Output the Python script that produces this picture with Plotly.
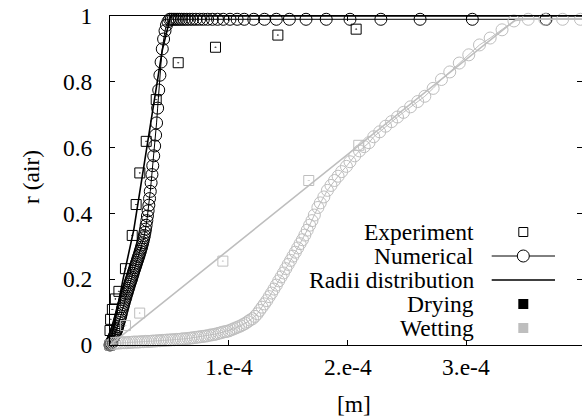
import plotly.graph_objects as go

# ---- data (x in units of 1e-4 m) ----
dry_exp_x = [0.0, 0.0, 0.005, 0.02, 0.045, 0.075, 0.13, 0.187, 0.22, 0.251, 0.305, 0.389, 0.574, 0.888, 1.413, 2.072]
dry_exp_r = [0.0, 0.044, 0.078, 0.108, 0.14, 0.163, 0.232, 0.333, 0.427, 0.523, 0.619, 0.746, 0.858, 0.905, 0.942, 0.960]

dry_num_x = [0.000, 0.005, 0.010, 0.015, 0.020, 0.025, 0.030, 0.035, 0.040, 0.045, 0.050, 0.055, 0.060,
             0.065, 0.070, 0.075, 0.080, 0.085, 0.090, 0.095, 0.100, 0.105, 0.110, 0.115, 0.120, 0.125,
             0.130, 0.135, 0.140, 0.145, 0.150, 0.155, 0.160, 0.165, 0.170, 0.175, 0.180, 0.185, 0.190,
             0.195, 0.200, 0.205, 0.210, 0.215, 0.220, 0.225, 0.230, 0.235, 0.240, 0.245, 0.250, 0.255,
             0.260, 0.265, 0.270, 0.275, 0.280, 0.285, 0.289, 0.294, 0.299, 0.304, 0.310, 0.315, 0.321,
             0.327, 0.333, 0.339, 0.346, 0.353, 0.360, 0.368, 0.376, 0.384, 0.392, 0.401, 0.410, 0.420,
             0.430, 0.440, 0.451, 0.463, 0.475, 0.488, 0.502, 0.516, 0.531, 0.547, 0.565, 0.583, 0.602,
             0.623, 0.646, 0.670, 0.695, 0.723, 0.754, 0.786, 0.822, 0.862, 0.905, 0.953, 1.01, 1.07,
             1.13, 1.21, 1.30, 1.40, 1.51, 1.65, 1.82, 2.02, 2.28, 2.61, 3.05, 3.67, 4.6]
dry_num_r = [0.000, 0.003, 0.006, 0.009, 0.013, 0.017, 0.021, 0.025, 0.030, 0.035, 0.040, 0.045, 0.050,
             0.056, 0.062, 0.068, 0.075, 0.081, 0.088, 0.095, 0.103, 0.110, 0.117, 0.123, 0.130, 0.136,
             0.142, 0.148, 0.155, 0.160, 0.166, 0.172, 0.178, 0.184, 0.190, 0.195, 0.200, 0.206, 0.212,
             0.218, 0.224, 0.229, 0.235, 0.240, 0.246, 0.251, 0.257, 0.262, 0.268, 0.273, 0.279, 0.285,
             0.291, 0.297, 0.304, 0.311, 0.318, 0.326, 0.333, 0.342, 0.352, 0.364, 0.378, 0.392, 0.408,
             0.425, 0.445, 0.467, 0.493, 0.518, 0.545, 0.575, 0.605, 0.638, 0.675, 0.720, 0.775, 0.820,
             0.860, 0.900, 0.930, 0.955, 0.972, 0.983, 0.990, 0.990, 0.990, 0.990, 0.990, 0.990, 0.990,
             0.990, 0.990, 0.990, 0.990, 0.990, 0.990, 0.990, 0.990, 0.990, 0.990, 0.990, 0.990, 0.990,
             0.990, 0.990, 0.990, 0.990, 0.990, 0.990, 0.990, 0.990, 0.990, 0.990, 0.990, 0.990, 0.990]

dry_rad_x = [0.0, 0.11, 0.20, 0.345, 0.44, 0.51, 4.0]
dry_rad_r = [0.0, 0.20, 0.35, 0.68, 0.896, 1.0, 1.0]

wet_exp_x = [0.0, 0.13, 0.25, 0.95, 1.673, 2.094]
wet_exp_r = [0.0, 0.059, 0.097, 0.255, 0.50, 0.607]

wet_num_x = [0.02, 0.04, 0.06, 0.08, 0.10, 0.12, 0.14, 0.16, 0.18, 0.20, 0.22, 0.24, 0.26, 0.28, 0.30,
             0.32, 0.34, 0.36, 0.38, 0.40, 0.42, 0.44, 0.46, 0.48, 0.50, 0.52, 0.54, 0.56, 0.58, 0.60,
             0.62, 0.64, 0.66, 0.68, 0.70, 0.72, 0.74, 0.76, 0.78, 0.80, 0.82, 0.84, 0.86, 0.88, 0.90,
             0.92, 0.94, 0.96, 0.98, 1.00, 1.02, 1.04, 1.06, 1.08, 1.10, 1.12, 1.14, 1.16, 1.18, 1.20,
             1.22, 1.24, 1.26, 1.28, 1.30, 1.32, 1.34, 1.36, 1.38, 1.40, 1.42, 1.44, 1.46, 1.48, 1.50,
             1.52, 1.54, 1.56, 1.58, 1.60, 1.62, 1.64, 1.66, 1.68, 1.70, 1.72, 1.75, 1.77, 1.80, 1.83,
             1.86, 1.89, 1.92, 1.95, 1.99, 2.02, 2.06, 2.10, 2.14, 2.18, 2.22, 2.27, 2.32, 2.37, 2.42,
             2.47, 2.53, 2.59, 2.65, 2.72, 2.79, 2.86, 2.94, 3.02, 3.11, 3.20, 3.30, 3.40, 3.52, 3.66,
             3.81, 3.96]
wet_num_r = [0.005, 0.005, 0.006, 0.006, 0.007, 0.007, 0.007, 0.008, 0.008, 0.009, 0.009, 0.009, 0.010, 0.010, 0.011,
             0.011, 0.011, 0.012, 0.012, 0.013, 0.013, 0.014, 0.014, 0.015, 0.015, 0.016, 0.016, 0.017, 0.017, 0.018,
             0.019, 0.019, 0.020, 0.021, 0.022, 0.023, 0.024, 0.025, 0.026, 0.027, 0.028, 0.030, 0.031, 0.032, 0.034,
             0.036, 0.038, 0.040, 0.041, 0.043, 0.046, 0.049, 0.052, 0.055, 0.058, 0.062, 0.066, 0.071, 0.076, 0.080,
             0.087, 0.095, 0.105, 0.115, 0.125, 0.135, 0.147, 0.158, 0.170, 0.182, 0.195, 0.207, 0.219, 0.232, 0.245,
             0.257, 0.270, 0.282, 0.295, 0.308, 0.320, 0.334, 0.349, 0.364, 0.378, 0.395, 0.418, 0.432, 0.450, 0.470,
             0.485, 0.500, 0.513, 0.527, 0.543, 0.557, 0.575, 0.590, 0.603, 0.615, 0.633, 0.648, 0.665, 0.679, 0.693,
             0.707, 0.724, 0.740, 0.756, 0.780, 0.807, 0.830, 0.857, 0.882, 0.912, 0.933, 0.958, 0.985, 0.990, 0.990,
             0.990, 0.990]

wet_rad_x = [0.0, 3.42, 4.0]
wet_rad_r = [0.0, 0.99, 0.99]

x_tick_vals = [1.0, 2.0, 3.0]
x_tick_text = ["1.e-4", "2.e-4", "3.e-4"]
y_tick_vals = [0, 0.2, 0.4, 0.6, 0.8, 1.0]
y_tick_text = ["0", "0.2", "0.4", "0.6", "0.8", "1"]

legend_labels = ["Experiment", "Numerical", "Radii distribution", "Drying", "Wetting"]

SCALE = 1e-4
def m(xs):
    return [v * SCALE for v in xs]

BLACK = "#000000"
GRAY = "#bebebe"
FONT = "Liberation Serif, 'Times New Roman', Times, serif"
FS = 23.5

fig = go.Figure()

def add_set(ex, er, nx, nr, rx, rr, color):
    fig.add_trace(go.Scatter(x=m(ex), y=er, mode="markers", cliponaxis=False, showlegend=False,
                             marker=dict(symbol="square-open-dot", size=10, color=color, line=dict(width=1, color=color))))
    fig.add_trace(go.Scatter(x=m(nx), y=nr, mode="lines+markers", cliponaxis=False, showlegend=False,
                             line=dict(color=color, width=1),
                             marker=dict(symbol="circle-open", size=12, color=color, line=dict(width=1, color=color))))
    fig.add_trace(go.Scatter(x=m(rx), y=rr, mode="lines", showlegend=False,
                             line=dict(color=color, width=1.6)))

add_set(dry_exp_x, dry_exp_r, dry_num_x, dry_num_r, dry_rad_x, dry_rad_r, BLACK)
add_set(wet_exp_x, wet_exp_r, wet_num_x, wet_num_r, wet_rad_x, wet_rad_r, GRAY)

# invisible trace to realise the right-hand tick axis
fig.add_trace(go.Scatter(x=[None], y=[None], yaxis="y2", showlegend=False, hoverinfo="skip"))

W, H = 582, 419
L, R, T, B = 110, 0, 16, 74
PW, PH = W - L - R, H - T - B

fig.update_layout(
    width=W, height=H,
    margin=dict(l=L, r=R, t=T, b=B),
    paper_bgcolor="white", plot_bgcolor="white",
    font=dict(family=FONT, size=FS, color="black"),
    xaxis=dict(range=[0, PW / 118.8 * SCALE], tickvals=m(x_tick_vals), showticklabels=False,
               ticks="inside", ticklen=5, tickcolor="black", showline=True, linecolor="black", linewidth=1,
               mirror="ticks", showgrid=False, zeroline=False),
    yaxis=dict(range=[0, 1], tickvals=y_tick_vals, ticktext=y_tick_text,
               ticks="inside", ticklen=5, tickcolor="black", showline=True, linecolor="black", linewidth=1,
               mirror=False, showgrid=False, zeroline=False, ticklabelstandoff=12,
               ticklabeloverflow="allow"),
    yaxis2=dict(range=[0, 1], overlaying="y", side="right", tickvals=[0.2, 0.4, 0.6, 0.8],
                ticks="inside", ticklen=5, tickcolor="black", showticklabels=False,
                showline=False, showgrid=False, zeroline=False),
)

def px(xp):
    return (xp - L) / PW
def py(yp):
    return (H - B - yp) / PH

ann = []
# x tick labels placed at the tick values
for v, t in zip(x_tick_vals, x_tick_text):
    ann.append(dict(text=t, x=v * SCALE, y=py(367), xref="x", yref="paper", showarrow=False,
                    xanchor="center", yanchor="middle", font=dict(size=FS)))
ann.append(dict(text="r (air)", x=px(31), y=py(177), xref="paper", yref="paper", showarrow=False,
                textangle=-90, xanchor="center", yanchor="middle", font=dict(size=FS)))
ann.append(dict(text="[m]", x=px(354), y=py(404), xref="paper", yref="paper", showarrow=False,
                xanchor="center", yanchor="middle", font=dict(size=FS)))
rows = [232, 256, 280, 304, 328]
for lab, yy in zip(legend_labels, rows):
    ann.append(dict(text=lab, x=px(476), y=py(yy), xref="paper", yref="paper", showarrow=False,
                    xanchor="right", yanchor="middle", font=dict(size=FS)))
fig.update_layout(annotations=ann)

cx = 523.3
shapes = []
shapes.append(dict(type="rect", xref="paper", yref="paper", x0=px(cx - 4.5), x1=px(cx + 4.5),
                   y0=py(rows[0] + 4.5), y1=py(rows[0] - 4.5), line=dict(color="black", width=1)))
shapes.append(dict(type="line", xref="paper", yref="paper", x0=px(491.7), x1=px(555),
                   y0=py(rows[1]), y1=py(rows[1]), line=dict(color="black", width=1)))
shapes.append(dict(type="circle", xref="paper", yref="paper", x0=px(cx - 6), x1=px(cx + 6),
                   y0=py(rows[1] + 6), y1=py(rows[1] - 6), line=dict(color="black", width=1), fillcolor="white"))
shapes.append(dict(type="line", xref="paper", yref="paper", x0=px(491.7), x1=px(555),
                   y0=py(rows[2]), y1=py(rows[2]), line=dict(color="black", width=1.6)))
for yy, col in ((rows[3], BLACK), (rows[4], GRAY)):
    shapes.append(dict(type="rect", xref="paper", yref="paper", x0=px(cx - 5), x1=px(cx + 5),
                       y0=py(yy + 5), y1=py(yy - 5), line=dict(width=0), fillcolor=col))
fig.update_layout(shapes=shapes)

fig.write_html("out.html", config={"displayModeBar": False},
               post_script="document.body.style.margin='0px';")
